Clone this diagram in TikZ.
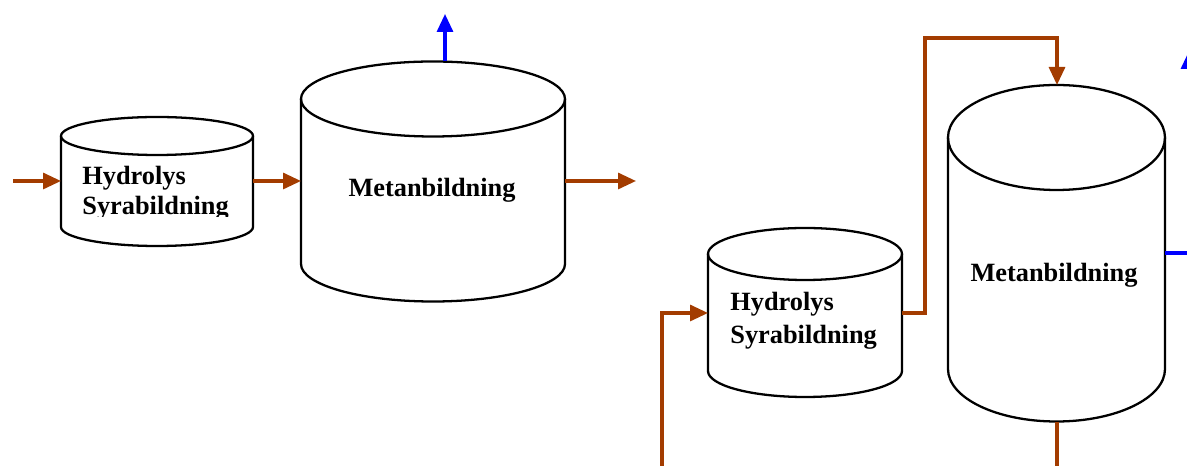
\documentclass[tikz,border=0pt]{standalone}
\usepackage{fontspec}
\setmainfont{Liberation Serif}
\usetikzlibrary{arrows.meta}

\definecolor{pipebrown}{RGB}{163,60,0}
\definecolor{gasblue}{RGB}{0,0,255}

% cylinder: centre x, top y, bottom y, x radius, y radius
\newcommand{\tank}[5]{%
\draw[tankline] (#1-#4,#2) -- (#1-#4,#3) arc[start angle=180,end angle=360,x radius=#4,y radius=#5] -- (#1+#4,#2);
\draw[tankline] (#1,#2) ellipse[x radius=#4,y radius=#5];}

\tikzset{
tankline/.style={line width=1.3pt,black},
flow/.style={line width=1.8pt,pipebrown,-{Triangle[length=0.36cm,width=0.32cm]}},
pipe/.style={line width=1.8pt,pipebrown},
gas/.style={line width=1.8pt,gasblue,-{Triangle[length=0.36cm,width=0.32cm]}},
label/.style={font=\fontsize{15}{18}\selectfont\bfseries,inner sep=0pt}
}

\begin{document}
\begin{tikzpicture}[x=0.02cm,y=0.02cm]
\clip (0,0) rectangle (1187,466);
\useasboundingbox (0,0) rectangle (1187,466);

% two-stage plant, left
\tank{157}{330}{239}{96}{19}
\tank{433}{367}{202}{132}{37.5}
% two-stage plant, right
\tank{805}{212}{95}{97}{26}
\tank{1056.5}{328.5}{97}{108.5}{52.5}

% texts
\begin{scope}
\clip (60,249) rectangle (254,272);
\node[label,anchor=base west] (syr1) at (82,251) {Syrabildning};
\end{scope}
\node[label,anchor=base west] (hyd1) at (82,281) {Hydrolys};
\node[label,anchor=base] (met1) at (432,269) {Metanbildning};
\node[label,anchor=base west] (hyd2) at (730,155) {Hydrolys};
\node[label,anchor=base west] (syr2) at (730,122) {Syrabildning};
\node[label,anchor=base] (met2) at (1054,184) {Metanbildning};

% ports
\coordinate (in1) at (13,285);
\coordinate (h1w) at (61,285);
\coordinate (h1e) at (253,285);
\coordinate (m1w) at (301,285);
\coordinate (m1e) at (565,285);
\coordinate (out1) at (636,285);
\coordinate (m1top) at (445,405);
\coordinate (gas1) at (445,452);

\coordinate (in2) at (662,0);
\coordinate (h2w) at (708,153);
\coordinate (h2e) at (902,153);
\coordinate (m2top) at (1057,381);
\coordinate (m2e) at (1165,213);
\coordinate (gas2) at (1225,213);
\coordinate (gas3a) at (1189,300);
\coordinate (gas3) at (1189,415);
\coordinate (m2bot) at (1057,44);
\coordinate (out2) at (1057,0);

% connectors, left
\draw[flow] (in1) -- (h1w);
\draw[flow] (h1e) -- (m1w);
\draw[flow] (m1e) -- (out1);
\draw[gas] (m1top) -- (gas1);

% connectors, right
\draw[flow] (in2) |- (h2w);
\draw[flow] (h2e) -- (925,153) |- (1057,428) -- (m2top);
\draw[gas] (m2e) -- (gas2);
\draw[gas] (gas3a) -- (gas3);
\draw[pipe] (m2bot) -- (out2);
\end{tikzpicture}
\end{document}
